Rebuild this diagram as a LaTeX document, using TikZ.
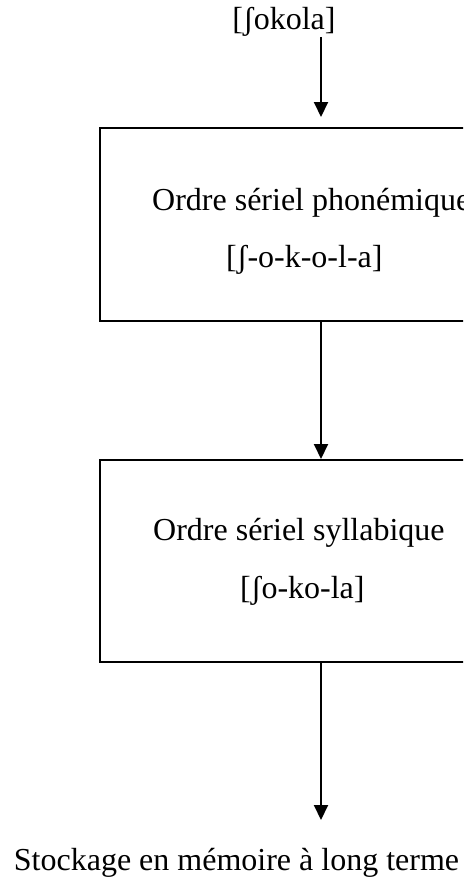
\documentclass[tikz,border=0pt]{standalone}
\usepackage{fontspec}
\setmainfont{Liberation Serif}
\usetikzlibrary{arrows.meta}
\begin{document}
\begin{tikzpicture}[x=1pt,y=-1pt,
  conn/.style={line width=2pt,-{Triangle[width=14pt,length=15pt]}},
  frame/.style={draw,line width=2pt,rectangle,inner sep=0pt},
  lbl/.style={font=\fontsize{32}{38}\selectfont,inner sep=0pt,anchor=base west}]
\useasboundingbox (0,0) rectangle (463,883);
\clip (0,0) rectangle (463,883);
\fill[white] (0,0) rectangle (463,883);
\node[lbl,anchor=base] (src) at (284,29.5) {[ʃokola]};
\node[frame,minimum width=442pt,minimum height=193pt] (b1) at (321,224.5) {};
\node[frame,minimum width=442pt,minimum height=202pt] (b2) at (321,561) {};
\node[lbl] (t1a) at (152,210) {Ordre sériel phonémique};
\node[lbl] (t1b) at (226,267) {[ʃ-o-k-o-l-a]};
\node[lbl] (t2a) at (153,540) {Ordre sériel syllabique};
\node[lbl] (t2b) at (240,598) {[ʃo-ko-la]};
\node[lbl,anchor=base] (dst) at (236.5,870) {Stockage en mémoire à long terme};
\coordinate (a1s) at (321,37);
\coordinate (a3e) at (321,820);
\draw[conn,shorten >=10pt] (a1s) -- (b1.north);
\draw[conn] (b1.south) -- (b2.north);
\draw[conn] (b2.south) -- (a3e);
\end{tikzpicture}
\end{document}
